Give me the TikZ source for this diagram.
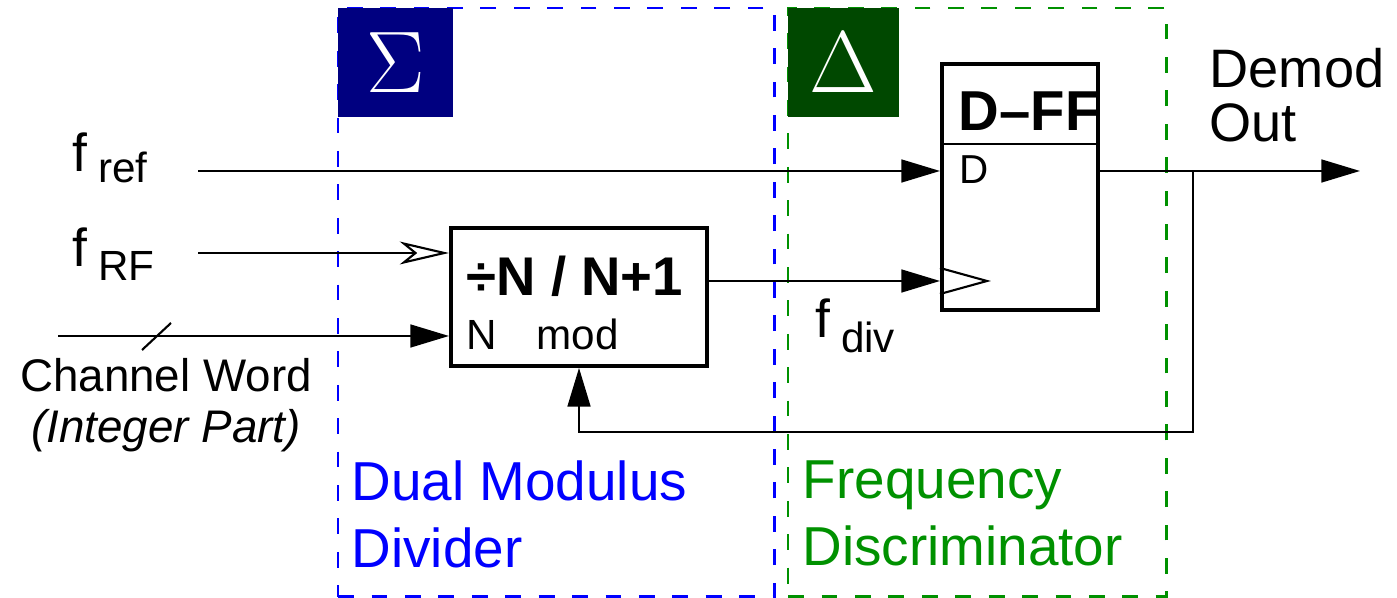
\documentclass[tikz,border=0pt]{standalone}
\usepackage{fontspec}
\setmainfont{Liberation Sans}
\usetikzlibrary{
  arrows.meta,
  positioning,
  calc
}
\definecolor{divblue}{RGB}{0,0,255}
\definecolor{sigmanavy}{RGB}{0,0,128}
\definecolor{discgreen}{RGB}{0,145,0}
\definecolor{deltagreen}{RGB}{0,72,0}
\newcommand{\freqsig}[2]{f\hspace{3pt}\raisebox{-#2}{\fontsize{12}{14}\selectfont #1}}
\tikzset{
  blockbox/.style={
    draw,
    line width=1.1pt,
    inner sep=0pt,
    anchor=north west
  },
  groupbox/.style={draw,line width=0.7pt,dash pattern=on 4.5pt off 5pt,inner sep=0pt,anchor=north west},
  tagbox/.style={inner sep=0pt,anchor=north west,text=white,font=\fontsize{28}{30}\selectfont},
  sigline/.style={line width=0.6pt},
  sigarrow/.style={sigline,-{Triangle[length=11pt,width=6.5pt]}},
  rfarrow/.style={sigline,-{Stealth[open,length=14pt,width=6.5pt,inset=4pt]}},
  pinlabel/.style={inner sep=0pt,anchor=base west,font=\fontsize{12}{14}\selectfont},
  siglabel/.style={inner sep=0pt,anchor=base west,font=\fontsize{15.2}{18}\selectfont},
  grouplabel/.style={inner sep=0pt,anchor=north west,align=left,font=\fontsize{15.6}{19}\selectfont},
}
\begin{document}
\begin{tikzpicture}[x=0.01cm,y=-0.01cm]
  \useasboundingbox (0,0) rectangle (1397,598);
  % the two sections
  \node[groupbox,draw=divblue,minimum width=4.36cm,minimum height=5.88cm] (dmd) at (337,7) {};
  \node[groupbox,draw=discgreen,minimum width=3.78cm,minimum height=5.88cm] (disc) at (787,7) {};
  \node[tagbox,fill=sigmanavy,minimum width=1.15cm,minimum height=1.09cm] (sigma) at (337,7) {$\Sigma$};
  \node[tagbox,fill=deltagreen,minimum width=1.11cm,minimum height=1.09cm] (delta) at (787,7) {$\Delta$};
  \node[grouplabel,text=divblue] (dmdlabel) at (351,460) {Dual Modulus\\Divider};
  \node[grouplabel,text=discgreen] (disclabel) at (802,460) {Frequency\\Discriminator};

  % divider block
  \node[blockbox,minimum width=2.56cm,minimum height=1.38cm] (div) at (449,226) {};
  \node[inner sep=0pt,anchor=base west,font=\fontsize{15.5}{18}\selectfont\bfseries] (divtitle) at (466,296) {÷N / N+1};
  \node[pinlabel] (npin) at (466,350) {N};
  \node[pinlabel] (modpin) at (536,350) {mod};

  % flip-flop
  \node[blockbox,minimum width=1.56cm,minimum height=2.46cm] (dff) at (940,62) {};
  \draw[sigline] ($(dff.north west)+(0,82)$) -- ($(dff.north east)+(0,82)$);
  \node[inner sep=0pt,anchor=base west,font=\fontsize{16}{18}\selectfont\bfseries] (fftitle) at (958,131) {D–FF};
  \node[pinlabel,font=\fontsize{11.5}{14}\selectfont] (dpin) at (959,184) {D};
  \coordinate (clk) at ($(dff.north west)+(0,219)$);
  \draw[sigline] ($(clk)+(0,-13)$) -- ($(clk)+(47,0)$) -- ($(clk)+(0,13)$);

  % inputs
  \node[siglabel] (fref) at (72,172) {\freqsig{ref}{3.1pt}};
  \node[siglabel] (frf) at (72,267) {\freqsig{RF}{3.7pt}};
  \node[siglabel] (fdiv) at (815,338) {\freqsig{div}{4pt}};
  \node[inner sep=0pt,align=center,font=\fontsize{13}{14.5}\selectfont] (chword) at (166,405) {Channel Word\\\textit{(Integer Part)}};
  \node[inner sep=0pt,anchor=north west,align=left,font=\fontsize{15.4}{15.3}\selectfont] (demod) at (1209,48) {Demod\\Out};

  \coordinate (frefin) at (198,171);
  \coordinate (frfin) at (198,253);
  \coordinate (chin) at (58,336);
  \coordinate (demodout) at (1360,171);
  \coordinate (tap) at (1193,171);
  \coordinate (fbrow) at (div.south |- 0,432);

  \draw[sigarrow] (frefin) -- (frefin -| dff.west);
  \draw[rfarrow] (frfin) -- (frfin -| div.west);
  \draw[sigarrow] (chin) -- (chin -| div.west);
  \draw[sigline] ($(chin)+(84,14)$) -- ($(chin)+(113,-13)$);
  \draw[sigarrow] (div.east |- clk) -- (clk);
  \draw[sigarrow] (dff.east |- demodout) -- (demodout);
  \draw[sigarrow] (tap) |- (fbrow) -- (div.south);
\end{tikzpicture}
\end{document}
